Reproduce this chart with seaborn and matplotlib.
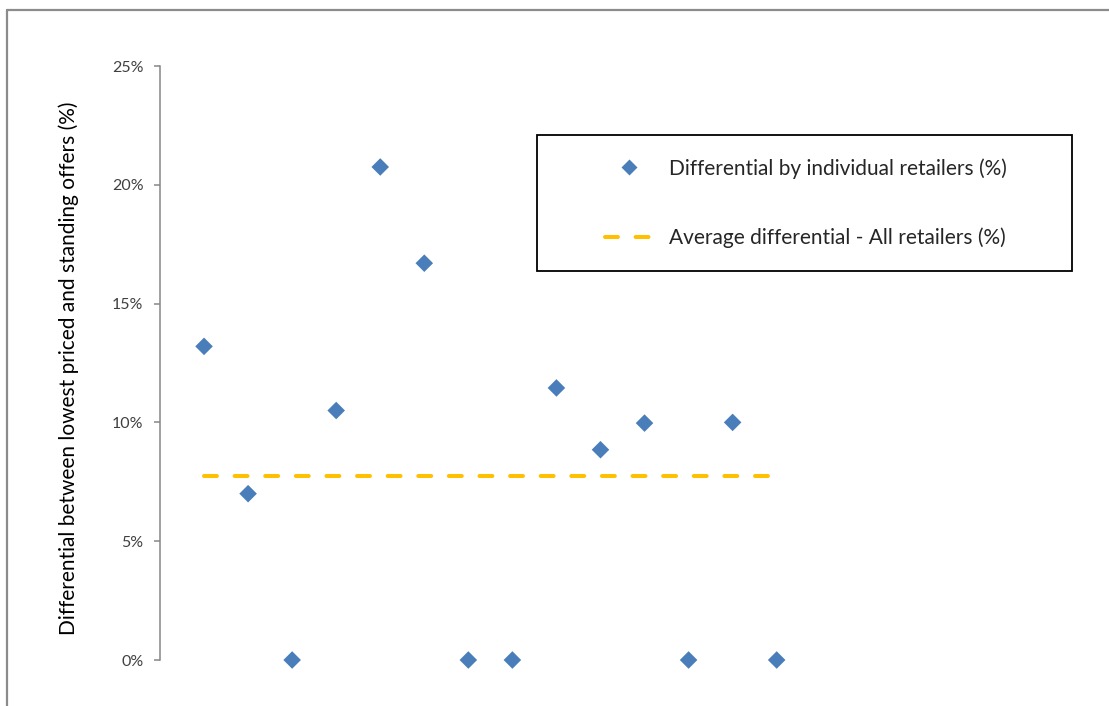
import numpy as np
import pandas as pd
import matplotlib.pyplot as plt
from matplotlib.patches import Rectangle
from matplotlib.lines import Line2D
from matplotlib.ticker import PercentFormatter
import seaborn as sns

# данные
retailers = list(range(1, 15))
differential = [13.2, 7.0, 0.0, 10.5, 20.75, 16.7, 0.0, 0.0, 11.45, 8.85, 9.97, 0.0, 10.0, 0.0]
avg_differential = 7.74

y_ticks = [0, 5, 10, 15, 20, 25]
label_points = "Differential by individual retailers (%)"
label_avg = "Average differential - All retailers (%)"
y_title = "Differential between lowest priced and standing offers (%)"

df = pd.DataFrame({"retailer": retailers, "diff": differential})
df_avg = pd.DataFrame({"retailer": [retailers[0], retailers[-1]],
                       "diff": [avg_differential, avg_differential]})

sns.set_style("white")
plt.rcParams['font.family'] = ['Lato', 'DejaVu Sans']

W, H = 1109, 706
fig = plt.figure(figsize=(W / 100, H / 100), dpi=100)
ax = fig.add_axes([160 / W, 1 - 660 / H, 925 / W, 594 / H])

blue = "#4a7ebb"
gold = "#ffc000"

sns.lineplot(data=df_avg, x="retailer", y="diff", ax=ax, color=gold, lw=2.9,
             dashes=False, label=label_avg, legend=False)
ax.lines[-1].set_dashes((3.2, 4.4))
ax.lines[-1].set_dash_capstyle("round")
sns.scatterplot(data=df, x="retailer", y="diff", ax=ax, marker="D", s=80,
                color=blue, edgecolor="none", label=label_points, legend=False,
                zorder=3, clip_on=False)

ax.set_xlim(0, 21)
ax.set_ylim(0, 25)
ax.set_yticks(y_ticks)
ax.yaxis.set_major_formatter(PercentFormatter(decimals=0))
ax.set_xticks([])
ax.set_xlabel("")
ax.set_ylabel(y_title, fontsize=15, color="#000000")
ax.yaxis.set_label_coords(-0.088, 0.492)

for s in ["top", "right", "bottom"]:
    ax.spines[s].set_visible(False)
ax.spines["left"].set_color("#868686")
ax.spines["left"].set_linewidth(1.1)
ax.tick_params(axis="y", direction="out", length=4, width=1.1, color="#868686",
               pad=8, labelsize=11.5, labelcolor="#404040", left=True)

# рамка легенды отдельно, сама легенда без рамки
ax.add_patch(Rectangle(((537 - 160) / 925, (660 - 271) / 594), (1072 - 537) / 925,
                       (271 - 135) / 594, transform=ax.transAxes, fill=False,
                       edgecolor="#000000", lw=1.3, clip_on=False, zorder=5))
handles = [
    Line2D([], [], ls="none", marker="D", markersize=8, color=blue, markeredgecolor="none"),
    Line2D([], [], color=gold, lw=2.9, dashes=(3.2, 4.4), dash_capstyle="round"),
]
ax.legend(handles, [label_points, label_avg], loc="center left",
          bbox_to_anchor=((605 - 160) / 925, (660 - 203) / 594), frameon=False,
          fontsize=15, handlelength=2.3, handletextpad=0.75, labelspacing=2.35,
          borderpad=0, borderaxespad=0)

# внешняя рамка картинки
fig.add_artist(Line2D([7 / W, 1], [1 - 10 / H, 1 - 10 / H], color="#8c8c8c", lw=1.6))
fig.add_artist(Line2D([7 / W, 7 / W], [1 - 10 / H, 0], color="#8c8c8c", lw=1.6))

fig.savefig("out.png", dpi=100)
